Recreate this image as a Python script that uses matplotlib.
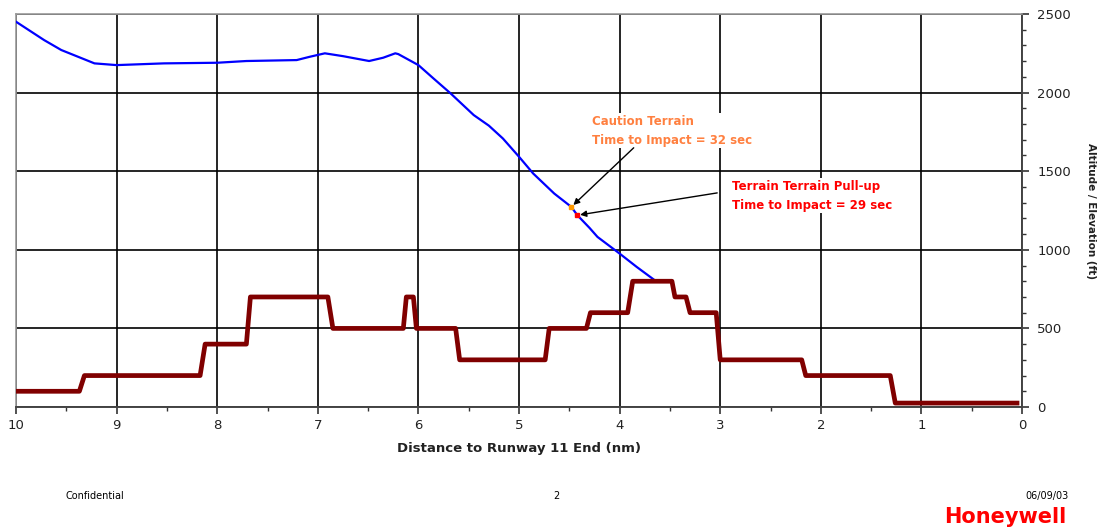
"""
Terrain profile vs aircraft altitude on approach to runway 11
"""

import matplotlib
matplotlib.use('Agg')
import matplotlib.pyplot as plt
from matplotlib.ticker import MultipleLocator

plt.rcParams['font.family'] = ['DejaVu Sans']

# aircraft altitude (ft) vs distance to runway end (nm)
aircraft_nm = [10.0, 9.72, 9.55, 9.22, 9.0, 8.53, 8.0, 7.71, 7.21, 7.08, 6.93,
               6.75, 6.49, 6.35, 6.23, 6.2, 6.0, 5.85, 5.68, 5.45, 5.3, 5.16,
               5.0, 4.86, 4.65, 4.48, 4.42, 4.3, 4.22, 4.0, 3.83, 3.65]
aircraft_ft = [2451, 2334, 2271, 2186, 2175, 2186, 2190, 2201, 2207, 2228, 2250,
               2232, 2201, 2222, 2250, 2245, 2175, 2090, 1995, 1857, 1790, 1708,
               1592, 1486, 1358, 1273, 1220, 1140, 1082, 976, 891, 806]

# terrain elevation (ft)
terrain_nm = [10.0, 9.37, 9.32, 8.17, 8.12, 7.71, 7.67, 6.90, 6.85, 6.15, 6.12,
              6.05, 6.02, 5.63, 5.59, 4.74, 4.70, 4.33, 4.29, 3.92, 3.87, 3.48,
              3.45, 3.34, 3.30, 3.04, 3.00, 2.19, 2.15, 1.31, 1.26, 0.05]
terrain_ft = [100, 100, 200, 200, 400, 400, 700, 700, 500, 500, 700,
              700, 500, 500, 300, 300, 500, 500, 600, 600, 800, 800,
              700, 700, 600, 600, 300, 300, 200, 200, 25, 25]

# alert points
caution_pt = (4.48, 1273)
pullup_pt = (4.42, 1220)
caution_text = 'Caution Terrain\nTime to Impact = 32 sec'
pullup_text = 'Terrain Terrain Pull-up\nTime to Impact = 29 sec'

fig = plt.figure(figsize=(11.03, 5.27), dpi=100)
ax = fig.add_axes([0.0145, 0.2277, 0.9121, 0.7457])

ax.plot(aircraft_nm, aircraft_ft, color='#0000ff', lw=1.6, zorder=3)
ax.plot(terrain_nm, terrain_ft, color='#800000', lw=3.4, zorder=3)

ax.plot(*caution_pt, 's', color='#ff9900', ms=3, zorder=4)
ax.plot(*pullup_pt, 's', color='#ff0000', ms=3, zorder=4)

arrow = dict(arrowstyle='-|>', color='black', lw=1, mutation_scale=9,
             shrinkA=0, shrinkB=2)
ax.annotate('', xy=caution_pt, xytext=(3.86, 1649), arrowprops=arrow, zorder=5)
ax.annotate('', xy=pullup_pt, xytext=(3.03, 1362), arrowprops=arrow, zorder=5)
ax.text(4.27, 1860, caution_text, color='#ff8040', fontsize=8.5,
        fontweight='bold', va='top', ha='left', linespacing=1.6,
        bbox=dict(facecolor='white', edgecolor='none', pad=1), zorder=4)
ax.text(2.88, 1445, pullup_text, color='#ff0000', fontsize=8.5,
        fontweight='bold', va='top', ha='left', linespacing=1.6,
        bbox=dict(facecolor='white', edgecolor='none', pad=1), zorder=4)

ax.set_xlim(10, 0)
ax.set_ylim(0, 2500)
ax.xaxis.set_major_locator(MultipleLocator(1))
ax.xaxis.set_minor_locator(MultipleLocator(0.5))
ax.yaxis.set_major_locator(MultipleLocator(500))
ax.yaxis.set_minor_locator(MultipleLocator(100))
ax.yaxis.tick_right()
ax.yaxis.set_label_position('right')
ax.grid(True, which='major', color='black', lw=1.2)
ax.tick_params(which='major', direction='out', length=5, width=1.2,
               labelsize=9.5, color='#333333', labelcolor='#222222')
ax.tick_params(which='minor', direction='out', length=3, width=1,
               color='#333333')
ax.tick_params(axis='y', pad=6)

for side in ('left', 'top'):
    ax.spines[side].set_color('#999999')
    ax.spines[side].set_linewidth(1.2)
for side in ('right', 'bottom'):
    ax.spines[side].set_color('#444444')
    ax.spines[side].set_linewidth(1.4)

ax.set_xlabel('Distance to Runway 11 End (nm)', fontsize=9.5,
              fontweight='bold', labelpad=7, color='#222222')
ax.set_ylabel('Altitude / Elevation (ft)', fontsize=7.5, fontweight='bold',
              rotation=270, labelpad=18, color='#222222')

# page footer
fig.text(0.059, 0.058, 'Confidential', fontsize=7, va='center')
fig.text(0.504, 0.058, '2', fontsize=7, va='center', ha='center')
fig.text(0.969, 0.058, '06/09/03', fontsize=7, va='center', ha='right')
fig.text(0.967, 0.0, 'Honeywell', fontsize=15, fontweight='bold',
         color='#ff0000', va='bottom', ha='right')

fig.savefig('out.png', dpi=100)
